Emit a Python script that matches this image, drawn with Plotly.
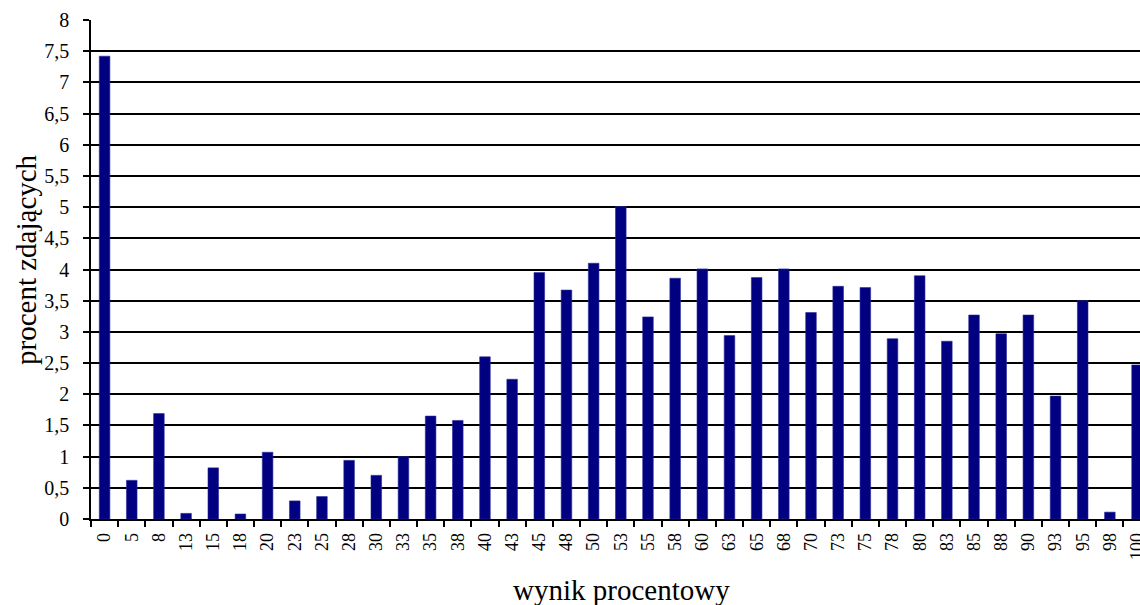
import plotly.graph_objects as go

categories = ["0", "5", "8", "13", "15", "18", "20", "23", "25", "28", "30", "33", "35",
              "38", "40", "43", "45", "48", "50", "53", "55", "58", "60", "63", "65", "68",
              "70", "73", "75", "78", "80", "83", "85", "88", "90", "93", "95", "98", "100"]
values = [7.42, 0.62, 1.69, 0.09, 0.82, 0.08, 1.07, 0.29, 0.36, 0.94, 0.70, 1.00, 1.65,
          1.58, 2.60, 2.24, 3.95, 3.67, 4.10, 5.01, 3.24, 3.86, 4.01, 2.94, 3.87, 4.01,
          3.31, 3.73, 3.71, 2.89, 3.90, 2.85, 3.27, 2.97, 3.27, 1.97, 3.50, 0.11, 2.47]

x_title = "wynik procentowy"
y_title = "procent zdających"

FONT = "Liberation Serif, Times New Roman, serif"

fig = go.Figure(go.Bar(
    x=categories, y=values,
    marker=dict(color="#000080", line=dict(width=0.6, color="#2a2a9a")),
))

W, H = 1140, 605
L, R, T, B = 91, 0, 20, 86
cat_w = 27.17
x_end = -0.5 + (W - L - R) / cat_w

fig.update_layout(
    width=W, height=H,
    margin=dict(l=L, r=R, t=T, b=B, pad=0, autoexpand=False),
    plot_bgcolor="white", paper_bgcolor="white",
    bargap=0.61,
    showlegend=False,
    separators=", ",
    font=dict(family=FONT, color="black", size=19),
)

fig.update_xaxes(
    type="category",
    range=[-0.5, x_end],
    automargin=False,
    showline=True, linecolor="black", linewidth=1.5,
    ticks="outside", ticklen=6, tickwidth=1.5, tickcolor="black",
    tickson="boundaries",
    tickangle=-90,
    tickfont=dict(family=FONT, size=18, color="black"),
    showgrid=False,
    ticklabelstandoff=5,
)
fig.update_yaxes(
    range=[0, 8], dtick=0.5, tick0=0,
    automargin=False,
    showline=True, linecolor="black", linewidth=1.5,
    ticks="outside", ticklen=6, tickwidth=1.5, tickcolor="black",
    showgrid=True, gridcolor="black", gridwidth=1.5,
    zeroline=False,
    tickfont=dict(family=FONT, size=20, color="black"),
    ticklabelstandoff=10,
)

fig.add_annotation(
    text=x_title, xref="paper", yref="paper",
    x=(621 - L) / (W - L - R), y=-(590 - (H - B)) / (H - T - B),
    xanchor="center", yanchor="middle", showarrow=False,
    font=dict(family=FONT, size=29, color="black"),
)
fig.add_annotation(
    text=y_title, xref="paper", yref="paper",
    x=-(L - 26) / (W - L - R), y=((H - B) - 260) / (H - T - B),
    xanchor="center", yanchor="middle", showarrow=False, textangle=-90,
    font=dict(family=FONT, size=29, color="black"),
)

fig.write_html(
    "out.html",
    config={"displayModeBar": False},
    post_script="document.body.style.margin='0';document.body.style.overflow='hidden';",
)
